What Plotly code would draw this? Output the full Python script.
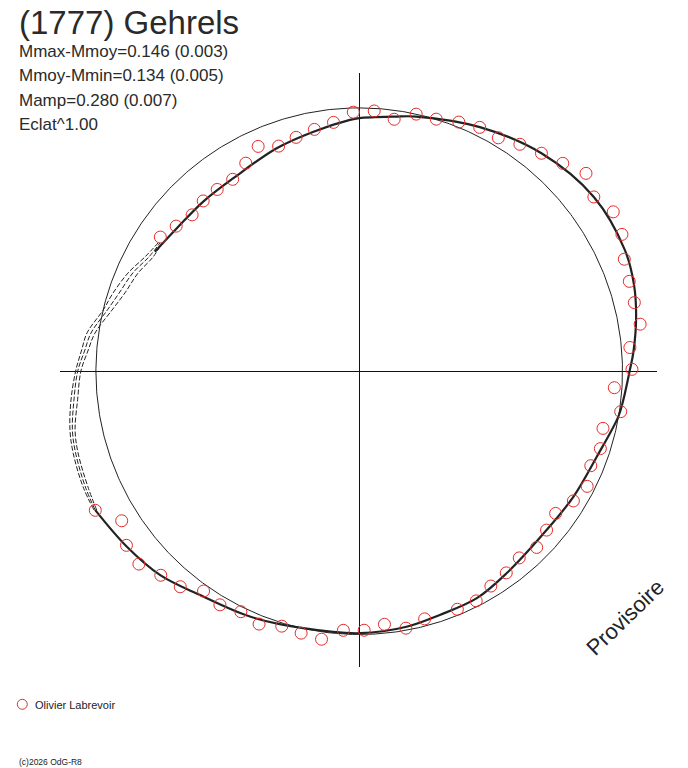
import numpy as np
import plotly.graph_objects as go

# ---- data (phase in degrees, clockwise from top; radius relative to mean circle = 1) ----
obs_phase = [358.7, 3.3, 7.9, 12.5, 17.0, 21.8, 26.3, 30.8, 35.3, 39.9, 44.4, 48.9,
             53.4, 57.9, 62.5, 67.1, 71.6, 76.0, 80.5, 85.0, 89.6, 93.7, 98.8, 103.2,
             107.8, 112.2, 116.8, 121.2, 125.9, 130.3, 134.8, 139.4, 143.9, 148.5, 153.0, 157.6,
             165.2, 169.7, 174.3, 178.9, 183.5, 188.0, 192.5, 196.9, 201.6, 206.2, 210.8, 215.3,
             219.7, 224.2, 228.8, 233.2, 237.8, 242.2, 304.0, 308.4, 313.1, 317.5, 322.0, 326.6,
             331.4, 335.8, 340.3, 344.9, 349.5, 354.1]
obs_radius = [0.984, 0.990, 0.966, 1.000, 1.001, 1.019, 1.033, 1.032, 1.056, 1.079, 1.105, 1.143,
              1.110, 1.139, 1.125, 1.093, 1.081, 1.077, 1.082, 1.032, 1.036, 0.971, 1.005, 0.951,
              0.962, 0.950, 0.970, 0.951, 0.921, 0.933, 0.950, 0.934, 0.948, 0.957, 0.979, 0.978,
              0.973, 0.992, 0.966, 0.984, 0.986, 1.028, 1.019, 1.012, 1.033, 1.018, 1.033, 1.023,
              1.064, 1.081, 1.112, 1.104, 1.066, 1.133, 0.911, 0.887, 0.869, 0.877, 0.876, 0.873,
              0.900, 0.936, 0.908, 0.920, 0.934, 0.950]

fit_phase = [300.3, 308.1, 317.4, 326.9, 339.7, 349.2, 357.9, 360.0, 367.9, 372.6, 386.3, 399.9,
             413.4, 425.5, 432.6, 439.1, 446.0, 450.0, 456.2, 460.0, 469.8, 480.4, 490.3, 503.9,
             512.6, 521.7, 529.5, 539.8, 552.3, 564.0, 575.4, 584.3, 593.0, 602.3]
fit_radius = [0.899, 0.880, 0.875, 0.875, 0.903, 0.926, 0.955, 0.961, 0.976, 0.991, 1.034, 1.079,
              1.110, 1.109, 1.094, 1.071, 1.044, 1.027, 1.009, 0.999, 0.959, 0.943, 0.933, 0.950,
              0.971, 0.975, 0.987, 0.995, 0.999, 1.020, 1.043, 1.082, 1.106, 1.133]

# alternative fits in the phase gap (no data)
alt1_phase = [242.4, 247.3, 254.0, 258.5, 264.3, 270.0, 274.4, 278.0, 283.4, 287.6, 293.0, 298.1, 302.5]
alt1_radius = [1.137, 1.137, 1.130, 1.121, 1.100, 1.077, 1.057, 1.044, 1.000, 0.981, 0.954, 0.922, 0.906]
alt2_phase = [242.3, 247.1, 253.9, 258.4, 264.2, 270.0, 274.4, 278.1, 283.7, 288.0, 293.5, 298.5, 302.8]
alt2_radius = [1.133, 1.129, 1.121, 1.112, 1.089, 1.069, 1.045, 1.029, 0.984, 0.959, 0.937, 0.909, 0.900]
alt3_phase = [242.1, 246.9, 253.8, 258.3, 264.2, 270.0, 274.5, 278.2, 283.9, 288.5, 293.9, 299.0, 303.0]
alt3_radius = [1.128, 1.120, 1.112, 1.102, 1.075, 1.057, 1.032, 1.014, 0.967, 0.938, 0.919, 0.895, 0.893]

title = "(1777) Gehrels"
info_lines = ["Mmax-Mmoy=0.146 (0.003)", "Mmoy-Mmin=0.134 (0.005)", "Mamp=0.280 (0.007)", "Eclat^1.00"]
observer = "Olivier Labrevoir"
credit = "(c)2026 OdG-R8"
stamp = "Provisoire"

W, H = 688, 768
CX, CY, R = 359.2, 371.2, 263.3   # pixel centre and unit radius of the polar frame
X0, X1, Y0, Y1 = 60, 657, 73, 667  # pixel extent of the cross axes

def px(x):
    return x / W

def py(y):
    return 1 - y / H

def to_xy(phase, radius):
    t = np.radians(np.asarray(phase, float))
    r = np.asarray(radius, float)
    return r * np.sin(t), r * np.cos(t)

RED = "#e62b2b"
INK = "#222222"
FONT = "Liberation Sans"

fig = go.Figure()

# mean circle
tc = np.linspace(0, 360, 721)
cx_, cy_ = to_xy(tc, np.ones_like(tc))
fig.add_trace(go.Scatter(x=cx_, y=cy_, mode="lines", line=dict(color=INK, width=1), hoverinfo="skip"))

for ph, rr in [(alt1_phase, alt1_radius), (alt2_phase, alt2_radius), (alt3_phase, alt3_radius)]:
    ax_, ay_ = to_xy(ph, rr)
    fig.add_trace(go.Scatter(x=ax_, y=ay_, mode="lines", line=dict(color=INK, width=1, dash="5px,2px", shape="spline"),
                             hoverinfo="skip"))

fx, fy = to_xy(fit_phase, fit_radius)
fig.add_trace(go.Scatter(x=fx, y=fy, mode="lines", line=dict(color=INK, width=2.2, shape="spline", smoothing=1.0),
                         hoverinfo="skip"))

ox, oy = to_xy(obs_phase, obs_radius)
fig.add_trace(go.Scatter(x=ox, y=oy, mode="markers",
                         marker=dict(symbol="circle-open", size=12, color=RED, line=dict(color=RED, width=1))))

xr = [(X0 - CX) / R, (X1 - CX) / R]
yr = [-(Y1 - CY) / R, (CY - Y0) / R]
axcommon = dict(showgrid=False, showticklabels=False, ticks="", showline=False,
                zeroline=True, zerolinecolor="#111111", zerolinewidth=1, fixedrange=True)
fig.update_layout(
    width=W, height=H, margin=dict(l=0, r=0, t=0, b=0),
    paper_bgcolor="white", plot_bgcolor="white", showlegend=False,
    xaxis=dict(range=xr, domain=[px(X0), px(X1)], **axcommon),
    yaxis=dict(range=yr, domain=[py(Y1), py(Y0)], **axcommon),
)

def ann(text, x, y, size, xanchor="left", yanchor="middle", angle=0, color=INK):
    fig.add_annotation(text=text, x=px(x), y=py(y), xref="paper", yref="paper", showarrow=False,
                       xanchor=xanchor, yanchor=yanchor, textangle=angle,
                       font=dict(family=FONT, size=size, color=color))

ann(title, 17, 22.5, 33, color="#2a2a2a")
for i, t in enumerate(info_lines):
    ann(t, 17, 51 + 24.6 * i, 17, color="#2a2a2a")

# legend
fig.add_shape(type="circle", xref="paper", yref="paper",
              x0=px(17.3), x1=px(27.3), y0=py(709.3), y1=py(699.3), line=dict(color=RED, width=1))
ann(observer, 33, 705, 11)
ann(credit, 17, 762, 8.5)
ann(stamp, 625, 617, 22, xanchor="center", angle=-44)

fig.write_html("out.html", config={"displayModeBar": False},
               post_script="document.body.style.margin='0';document.body.style.overflow='hidden';")
